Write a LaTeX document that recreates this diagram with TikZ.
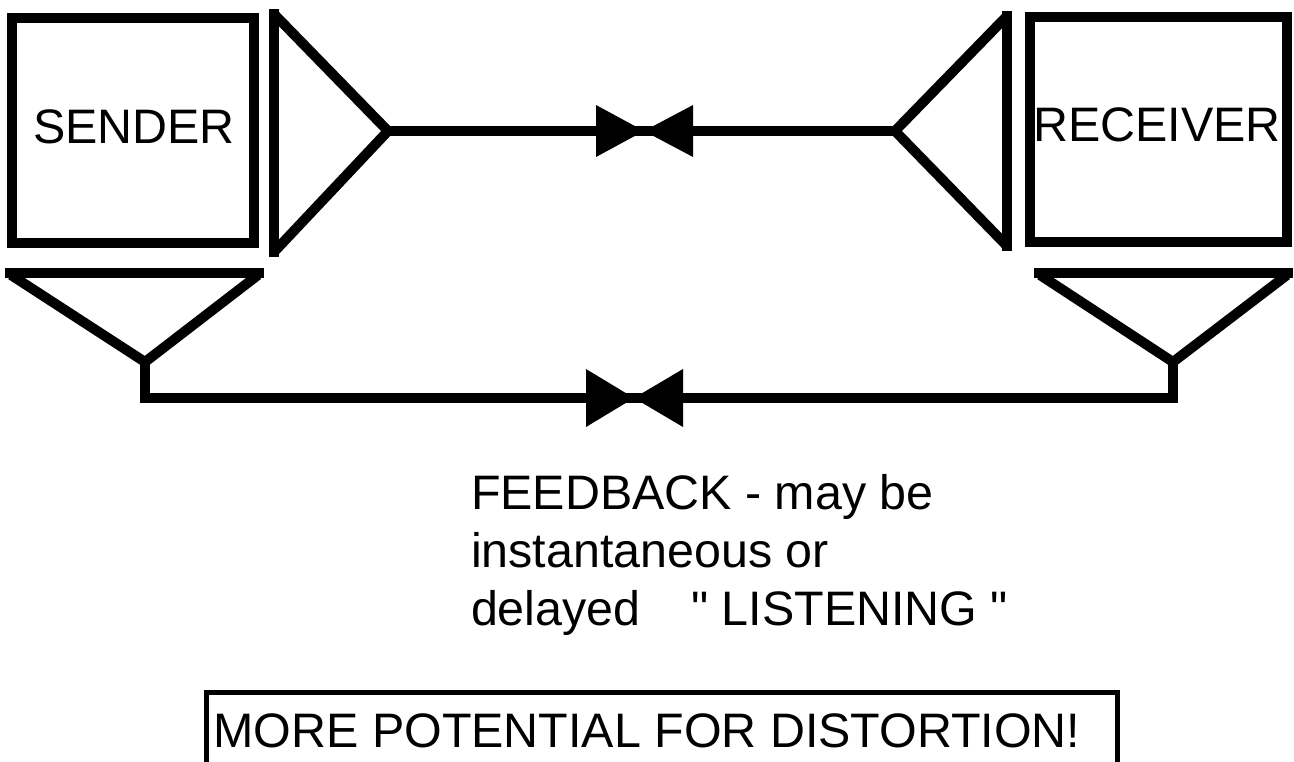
\documentclass[tikz,border=0pt]{standalone}
\usepackage{fontspec}
\defaultfontfeatures[\rmfamily,\sffamily]{}
\setmainfont{Liberation Sans}
\begin{document}
\begin{tikzpicture}[x=1pt,y=-1pt,
  thickline/.style={line width=10pt},
  blockbox/.style={draw,line width=10pt,minimum width=242pt,minimum height=225pt,inner sep=0pt,outer sep=0pt},
  lbl/.style={font=\fontsize{48.4pt}{58pt}\selectfont,inner sep=0pt,outer sep=0pt,anchor=base},
  bow/.style={fill=black}]
\useasboundingbox (0,0) rectangle (1294,761);
\clip (0,0) rectangle (1294,761);
\fill[white] (0,0) rectangle (1294,761);

% boxes
\node[blockbox] (sbox) at (133,130.5) {};
\node[lbl] (stext) at (134,143) {SENDER};
\node[blockbox, minimum width=257pt] (rbox) at (1158.5,129.5) {};
\node[lbl] (rtext) at (1157,141) {RECEIVER};

% coordinates
\coordinate (sapex) at (388,131);
\coordinate (rapex) at (895,131);
\coordinate (bowtop) at (644,131);
\coordinate (sdown) at (145,362);
\coordinate (rdown) at (1173,362);
\coordinate (scorner) at (145,398);
\coordinate (rcorner) at (1173,398);
\coordinate (bowbot) at (634,398);

% sender transmit triangle
\draw[thickline] (274,9) -- (274,257);
\draw[thickline,line join=miter] (274,14) -- (sapex) -- (274,252);
% receiver triangle
\draw[thickline] (1007,11) -- (1007,251);
\draw[thickline,line join=miter] (1007,16) -- (rapex) -- (1007,246);

% top channel
\draw[thickline] (sapex) -- (bowtop);
\draw[thickline] (rapex) -- (bowtop);
\fill[bow] (596,105) -- (bowtop) -- (596,157) -- cycle;
\fill[bow] (693,105) -- (bowtop) -- (693,157) -- cycle;

% down triangles
\draw[thickline] (5,273) -- (264,273);
\draw[thickline,line join=miter] (11,275) -- (sdown) -- (258,275);
\draw[thickline] (1034,273) -- (1293,273);
\draw[thickline,line join=miter] (1040,275) -- (rdown) -- (1287,275);

% feedback channel
\draw[thickline,line join=miter] (sdown) -- (scorner) -- (bowbot);
\draw[thickline,line join=miter] (rdown) -- (rcorner) -- (bowbot);
\fill[bow] (586,369) -- (bowbot) -- (586,427) -- cycle;
\fill[bow] (683,369) -- (bowbot) -- (683,427) -- cycle;

% feedback text
\node[lbl,anchor=base west] (fb1) at (471,509) {FEEDBACK - may be};
\node[lbl,anchor=base west] (fb2) at (471,567) {instantaneous or};
\node[lbl,anchor=base west] (fb3) at (471,625) {delayed\hspace{1.05em}\char34\ LISTENING \char34};

% distortion box
\node[draw,line width=5pt,minimum width=911pt,minimum height=110pt,inner sep=0pt,outer sep=0pt] (dbox) at (661.5,747) {};
\node[lbl,anchor=base west] (dtext) at (213.5,747) {MORE POTENTIAL FOR DISTORTION!};
\end{tikzpicture}
\end{document}
